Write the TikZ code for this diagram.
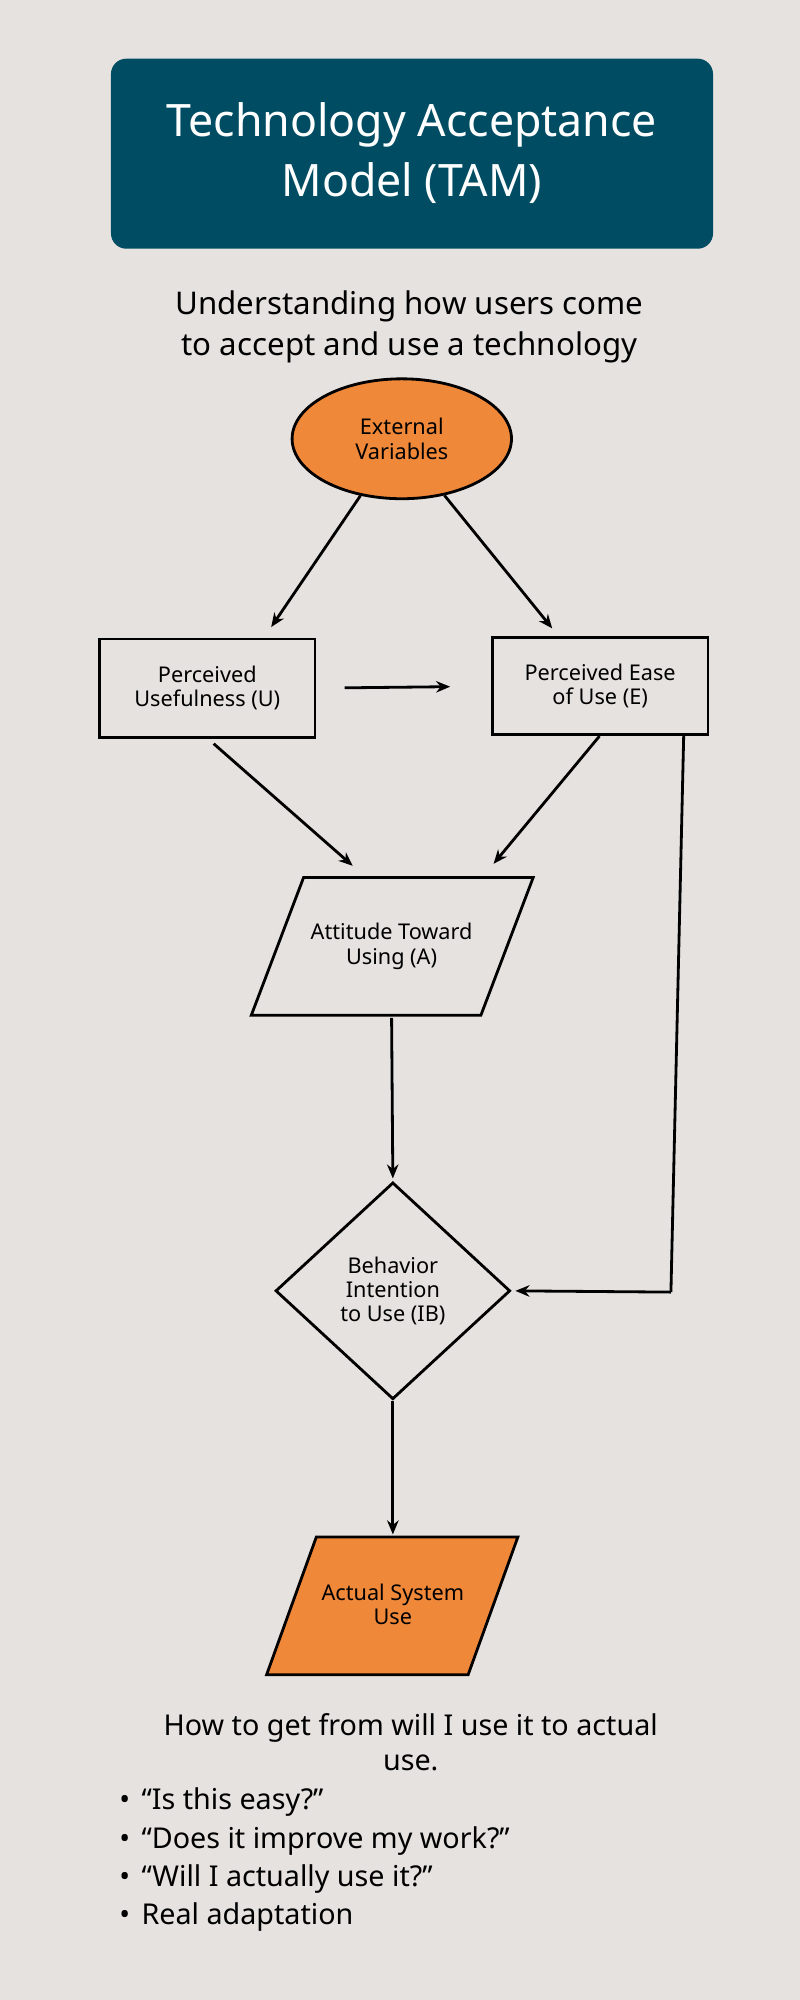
\documentclass[tikz,border=0pt]{standalone}
\usepackage{fontspec}
\setmainfont{Noto Sans}
\usetikzlibrary{shapes.geometric,arrows.meta,calc}
\definecolor{bg}{RGB}{229,226,223}
\definecolor{teal}{RGB}{0,77,99}
\definecolor{orng}{RGB}{240,136,58}
\begin{document}
\begin{tikzpicture}[x=1pt,y=-1pt,
  box/.style={draw,line width=2.2pt,inner sep=0pt,align=center,font=\fontsize{17}{19}\selectfont},
  arr/.style={line width=2.2pt,-{Stealth[length=11pt,width=9pt]}},
  btxt/.style={font=\fontsize{22.5}{27}\selectfont\bfseries}]
\fill[bg] (0,0) rectangle (627,1568);
\useasboundingbox (0,0) rectangle (627,1568);
\fill[teal,rounded corners=12pt] (87,46) rectangle (559,195);
\node[text=white,align=center,font=\fontsize{35}{47}\selectfont\bfseries] (title) at (323,120) {Technology Acceptance\\Model (TAM)};
\node[align=center,font=\fontsize{24.5}{32}\selectfont\bfseries] (sub) at (321,256) {Understanding how users come\\to accept and use a technology};
\node[box,ellipse,fill=orng,minimum width=172pt,minimum height=94pt] (ev) at (315,344) {External\\Variables};
\node[box,minimum width=169pt,minimum height=77pt] (u) at (162.5,539.5) {Perceived\\Usefulness (U)};
\node[box,minimum width=169pt,minimum height=76pt] (e) at (470.5,538) {Perceived Ease\\of Use (E)};
\draw[box,fill=bg] (238,688) -- (418,688) -- (377,796) -- (197,796) -- cycle;
\node[box,draw=none] (a) at (307,742) {Attitude Toward\\Using (A)};
\node[box,diamond,aspect=1.08,minimum width=184pt,minimum height=170pt,fill=bg] (ib) at (308,1012) {};
\node[box,draw=none] at (308,1012) {Behavior\\Intention\\to Use (IB)};
\draw[box,fill=orng] (248,1205) -- (406,1205) -- (367,1313) -- (209,1313) -- cycle;
\node[box,draw=none] (act) at (308,1258) {Actual System\\Use};
\coordinate (atop) at (307,688);
\coordinate (abot) at (307,798);
\coordinate (acttop) at (308,1205);
\coordinate (bend) at (526,1013);
% arrows
\draw[arr,shorten >=10pt] (ev.234) -- ([xshift=44.5pt]u.north);
\draw[arr,shorten >=8pt] (ev.-53) -- ([xshift=-32.5pt]e.north);
\draw[arr,shorten <=22pt,shorten >=32pt] (u.east) -- (e.west);
\draw[arr,shorten <=6pt,shorten >=14pt] ([xshift=0.5pt]u.south) -- ([xshift=-20pt]atop);
\draw[arr,shorten >=14pt] ([xshift=-0.5pt]e.south) -- ([xshift=71pt]atop);
\draw[arr,shorten >=2pt] (abot) -- (ib.north);
\draw[line width=2.2pt] ([xshift=65.5pt]e.south) -- (bend);
\draw[arr,shorten >=3pt] (bend) -- (ib.east);
\draw[arr,shorten >=2pt] (ib.south) -- (acttop);
% bottom text
\node[btxt,align=center] (q) at (322,1366) {How to get from will I use it to actual\\use.};
\node[btxt,anchor=west] (b1) at (90,1413) {•\hspace{9pt}“Is this easy?”};
\node[btxt,anchor=west] (b2) at (90,1443) {•\hspace{9pt}“Does it improve my work?”};
\node[btxt,anchor=west] (b3) at (90,1473) {•\hspace{9pt}“Will I actually use it?”};
\node[btxt,anchor=west] (b4) at (90,1503) {•\hspace{9pt}Real adaptation};
\end{tikzpicture}
\end{document}
